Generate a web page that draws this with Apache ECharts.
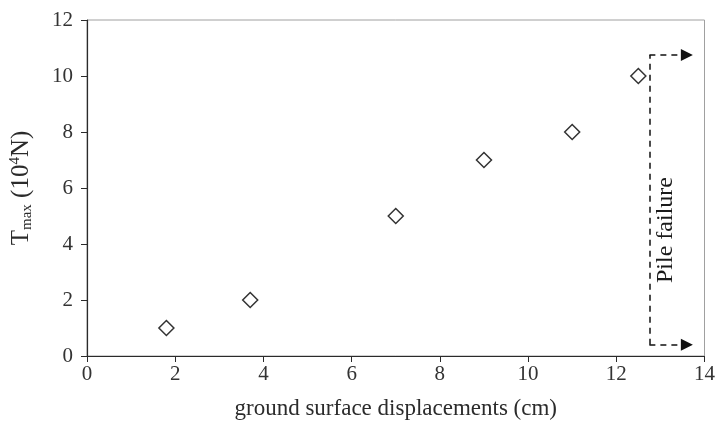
<!DOCTYPE html>
<html>
<head>
<meta charset="utf-8">
<script src="https://cdn.jsdelivr.net/npm/echarts@6/dist/echarts.min.js"></script>
<style>
  html, body { margin: 0; padding: 0; background: #fff; }
  #chart { width: 718px; height: 426px; }
</style>
</head>
<body>
<div id="chart"></div>
<script>
// measured points: ground surface displacement (cm) vs Tmax (10^4 N)
var displacements = [1.8, 3.7, 7, 9, 11, 12.5];
var tmaxValues = [1, 2, 5, 7, 8, 10];
// pile failure marker (x position, top and bottom of the dashed bracket, arrow tip)
var failureX = 12.75;
var failureTop = 10.75;
var failureBottom = 0.4;
var arrowTipX = 13.6;
var failureText = 'Pile failure';
var failureLabelAt = [13.12, 4.5];

var serif = '"Liberation Serif", "DejaVu Serif", serif';

var chart = echarts.init(document.getElementById('chart'));

var points = displacements.map(function (d, i) { return [d, tmaxValues[i]]; });

var option = {
  backgroundColor: '#fff',
  animation: false,
  grid: {
    left: 87, right: 11, top: 20, bottom: 70,
    show: true,
    borderColor: '#a0a0a0',
    borderWidth: 1
  },
  xAxis: {
    type: 'value',
    min: 0, max: 14, interval: 2,
    name: 'ground surface displacements (cm)',
    nameLocation: 'middle',
    nameGap: 41,
    nameTextStyle: { fontFamily: serif, fontSize: 23, color: '#2b2b2b' },
    axisLine: { show: true, lineStyle: { color: '#2b2b2b', width: 1.2 } },
    axisTick: { show: true, inside: false, length: 6, lineStyle: { color: '#2b2b2b' } },
    axisLabel: { fontFamily: serif, fontSize: 21, color: '#333', margin: 8 },
    splitLine: { show: false }
  },
  yAxis: {
    type: 'value',
    min: 0, max: 12, interval: 2,
    name: 'T{sub|max} (10{sup|4}N)',
    nameLocation: 'middle',
    nameGap: 52,
    nameRotate: 90,
    nameTextStyle: {
      fontFamily: serif, fontSize: 25, color: '#2b2b2b',
      rich: {
        sub: { fontFamily: serif, fontSize: 15, color: '#2b2b2b', padding: [12, 0, 0, 0] },
        sup: { fontFamily: serif, fontSize: 15, color: '#2b2b2b', padding: [0, 0, 12, 0] }
      }
    },
    axisLine: { show: true, lineStyle: { color: '#2b2b2b', width: 1.2 } },
    axisTick: { show: true, inside: false, length: 6, lineStyle: { color: '#2b2b2b' } },
    axisLabel: { fontFamily: serif, fontSize: 21, color: '#333', margin: 14 },
    splitLine: { show: false }
  },
  series: [
    {
      type: 'scatter',
      data: points,
      symbol: 'diamond',
      symbolSize: 15,
      itemStyle: { color: '#fff', borderColor: '#333', borderWidth: 1.5, opacity: 1 },
      z: 5
    },
    {
      type: 'line',
      data: [],
      silent: true,
      markLine: {
        silent: true,
        animation: false,
        label: { show: false },
        lineStyle: { color: '#111', type: [6, 5], width: 1.5 },
        symbolSize: 12,
        data: [
          [{ coord: [failureX, failureBottom], symbol: 'none' }, { coord: [failureX, failureTop], symbol: 'none' }],
          [{ coord: [failureX, failureTop], symbol: 'none' }, { coord: [arrowTipX, failureTop], symbol: 'triangle' }],
          [{ coord: [failureX, failureBottom], symbol: 'none' }, { coord: [arrowTipX, failureBottom], symbol: 'triangle' }]
        ]
      }
    },
    {
      type: 'scatter',
      silent: true,
      data: [failureLabelAt],
      symbolSize: 0,
      itemStyle: { color: '#fff', opacity: 1 },
      label: {
        show: true,
        position: 'inside',
        formatter: failureText,
        rotate: 90,
        fontFamily: serif,
        fontSize: 24,
        color: '#1a1a1a',
        textBorderWidth: 0
      }
    }
  ]
};

chart.setOption(option);
</script>
</body>
</html>
